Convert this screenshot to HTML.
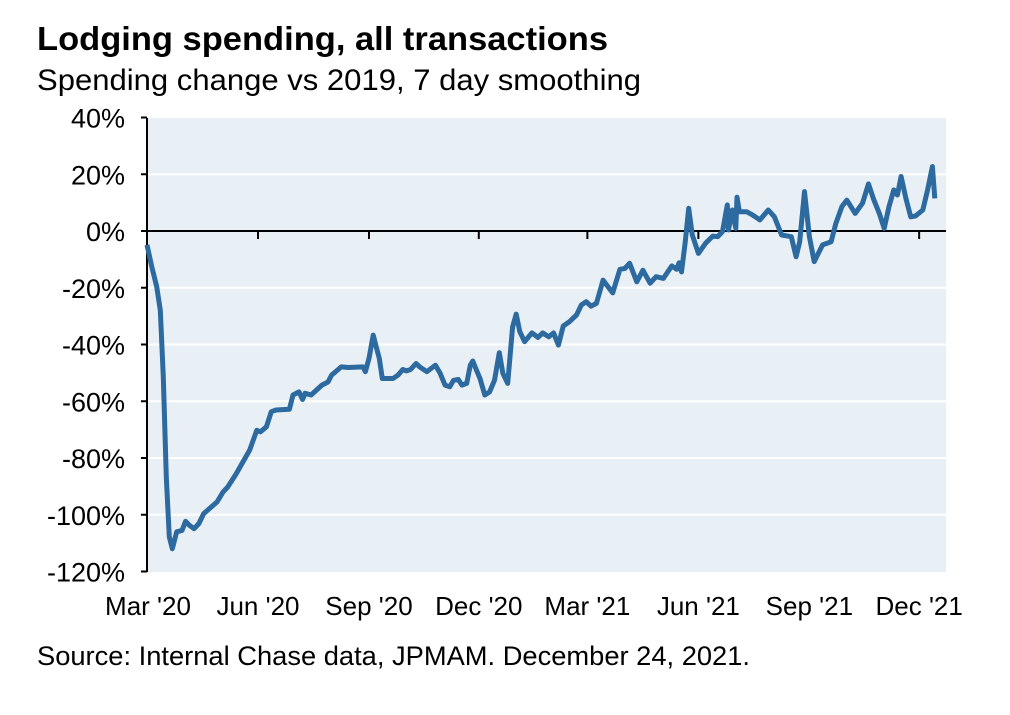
<!DOCTYPE html>
<html><head><meta charset="utf-8"><style>
body{margin:0;background:#fff;width:1010px;height:710px;overflow:hidden;font-family:"Liberation Sans",Arial,sans-serif}
</style></head><body>
<svg id="chart" width="1010" height="710" xmlns="http://www.w3.org/2000/svg" font-family="Liberation Sans, Arial, sans-serif">
<text x="37" y="50" font-size="33" font-weight="bold" fill="#000" textLength="571" lengthAdjust="spacingAndGlyphs">Lodging spending, all transactions</text>
<text x="37" y="90" font-size="30" fill="#000" textLength="604" lengthAdjust="spacingAndGlyphs">Spending change vs 2019, 7 day smoothing</text>
<rect x="147" y="118" width="799" height="454" fill="#e9f0f5"/>
<g id="grid"></g><g id="ylabels"></g><g id="xticks"></g>
<path id="line" fill="none" stroke="#2c6aa0" stroke-width="5" stroke-linejoin="round"/>
<text x="37" y="665" font-size="27" fill="#000" textLength="713" lengthAdjust="spacingAndGlyphs">Source: Internal Chase data, JPMAM. December 24, 2021.</text>
</svg>
<script>
const yTicks=[40,20,0,-20,-40,-60,-80,-100,-120];
const xTickLabels=["Mar '20","Jun '20","Sep '20","Dec '20","Mar '21","Jun '21","Sep '21","Dec '21"];
const xTickDays=[0,92,184,275,365,457,549,640];
const days=[0,4,8,11,13.5,16,18.5,21,24.6,29,32,35,39,43,47,58,63,67,74,78,85,91,94,99,103,107,118,121,126,129,131,136,145,150,153,161,167,179,181,184,187.5,190,192.5,195,204,208,212,215,218.5,223,226,232,239,243,247,251,254,258,261,265,268,270,273,276,280,284,288,292,295,299,303,306,309,313,319,324,328,333,337,341,345,350,356,360,364,368,372.5,378,382,386,392,396,400,406,411,417,422,428,435,439,441,443,446,449,452,457,463,469,473,477,481,482,485,488,489,491,497,502,508,515,520,526,534,538,541,545,549,553,560,567,571,576,580,587,593,598,602,607,611,615,619,622,625,629,633,637,643,647,651,653];
const values=[-4.9,-12.6,-19.6,-27.9,-51.4,-86.7,-107.8,-112,-106,-105.5,-102.3,-103.7,-104.9,-103.1,-99.6,-95.5,-92,-90.2,-85.5,-82.5,-77.3,-70.2,-70.8,-69,-63.7,-63.1,-62.8,-57.8,-56.7,-59.4,-57.2,-57.8,-54.3,-53.2,-50.8,-47.9,-48.1,-47.9,-49.6,-44.9,-36.7,-40.8,-44.9,-52,-52,-50.8,-48.8,-49.3,-48.8,-46.7,-47.9,-49.6,-47.3,-50.2,-54.3,-54.9,-52.6,-52.3,-54.3,-53.7,-47.3,-45.8,-49,-52,-57.8,-56.7,-52.6,-42.9,-50.2,-53.7,-33.8,-29.3,-35.5,-39,-35.9,-37.5,-35.9,-37.3,-35.9,-40.2,-33.5,-32,-29.6,-26.1,-24.9,-26.5,-25.5,-17.3,-19.6,-21.8,-13.5,-13.2,-11.4,-17.9,-13.8,-18.4,-16.1,-16.7,-12.3,-13.5,-11.2,-14.4,-4.3,8,-1.4,-7.9,-4.3,-1.8,-2,-0.2,9.2,0.4,7.4,0.9,11.9,6.8,6.8,5.6,3.9,7.4,5,-1.4,-2,-9.1,-3.8,13.9,-2,-10.8,-4.9,-3.8,2.7,8.6,10.9,6.2,9.8,16.6,11.5,6.2,0.9,8.6,14.5,12.7,19.2,11.5,5,5.3,7.4,14.5,22.7,11.5];
const NS='http://www.w3.org/2000/svg';
const X=d=>147+d*1.2065, Y=v=>231-v*2.8375;
const grid=document.getElementById('grid'),yl=document.getElementById('ylabels'),xt=document.getElementById('xticks');
yTicks.forEach(v=>{
  if(v!==0&&v!==40&&v!==-120){const l=document.createElementNS(NS,'line');
  
  
  l.setAttribute('x1',147);l.setAttribute('x2',946);l.setAttribute('y1',Y(v));l.setAttribute('y2',Y(v));l.setAttribute('stroke','#fff');l.setAttribute('stroke-width','2');grid.appendChild(l);}
  const tk=document.createElementNS(NS,'line');
  
  
  tk.setAttribute('x1',141);tk.setAttribute('x2',147);tk.setAttribute('y1',Y(v));tk.setAttribute('y2',Y(v));tk.setAttribute('stroke','#000');tk.setAttribute('stroke-width','2');grid.appendChild(tk);
  const t=document.createElementNS(NS,'text');
  
  
  t.setAttribute('x',125);t.setAttribute('y',Y(v)+10);t.setAttribute('text-anchor','end');t.setAttribute('font-size','27');t.textContent=v+'%';yl.appendChild(t);
});
const ax=document.createElementNS(NS,'line');


ax.setAttribute('x1',147);ax.setAttribute('x2',147);ax.setAttribute('y1',118);ax.setAttribute('y2',572);ax.setAttribute('stroke','#000');ax.setAttribute('stroke-width','2');grid.appendChild(ax);
const zx=document.createElementNS(NS,'line');


zx.setAttribute('x1',147);zx.setAttribute('x2',946);zx.setAttribute('y1',Y(0));zx.setAttribute('y2',Y(0));zx.setAttribute('stroke','#000');zx.setAttribute('stroke-width','2');grid.appendChild(zx);
xTickDays.forEach((d,i)=>{
  const l=document.createElementNS(NS,'line');
  
  
  l.setAttribute('x1',X(d));l.setAttribute('x2',X(d));l.setAttribute('y1',Y(0));l.setAttribute('y2',Y(0)+8);l.setAttribute('stroke','#000');l.setAttribute('stroke-width','2');xt.appendChild(l);
  const t=document.createElementNS(NS,'text');
  
  
  t.setAttribute('x',X(d)+(i===0?1:0));t.setAttribute('y',615);t.setAttribute('text-anchor','middle');t.setAttribute('font-size','26');t.textContent=xTickLabels[i];xt.appendChild(t);
});
document.getElementById('line').setAttribute('d',days.map((d,i)=>(i?'L':'M')+X(d).toFixed(1)+','+Y(values[i]).toFixed(1)).join(''));
</script>
</body></html>
